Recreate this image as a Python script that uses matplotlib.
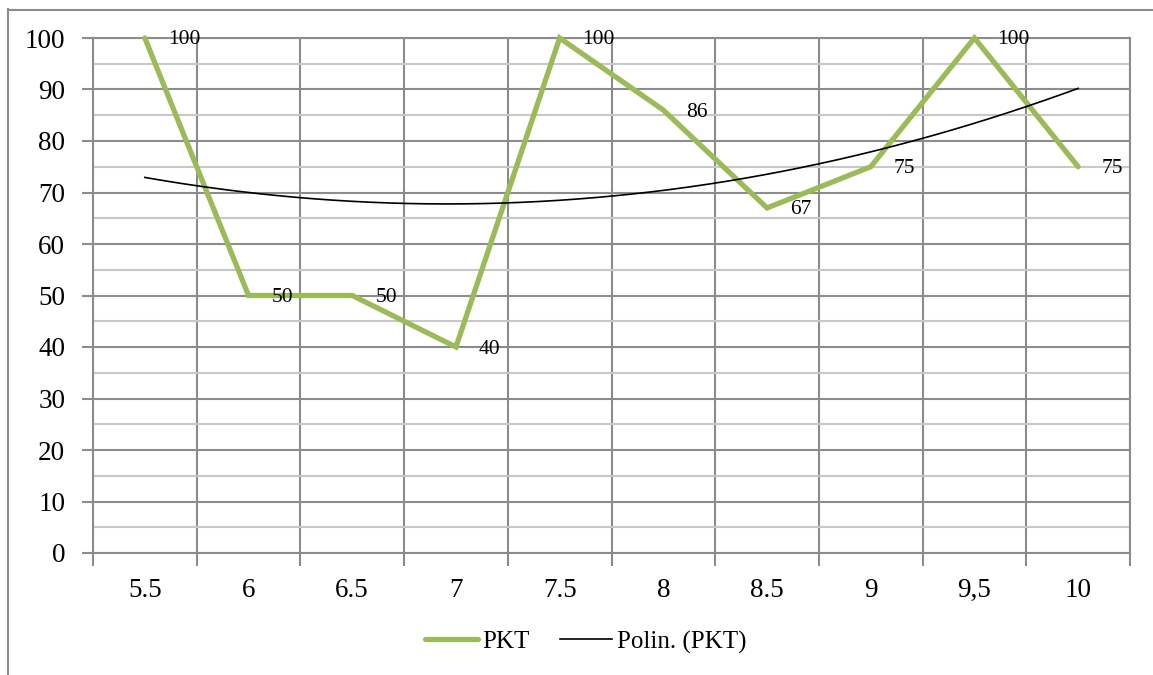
import numpy as np
import matplotlib
matplotlib.use("Agg")
import matplotlib.pyplot as plt
from matplotlib.lines import Line2D

# Data
categories = ["5.5", "6", "6.5", "7", "7.5", "8", "8.5", "9", "9,5", "10"]
pkt = [100, 50, 50, 40, 100, 86, 67, 75, 100, 75]
series_name = "PKT"
trend_name = "Polin. (PKT)"
y_ticks = [0, 10, 20, 30, 40, 50, 60, 70, 80, 90, 100]

GREEN = "#9bbb59"
GRID_MAJOR = "#8c8c8c"
GRID_MINOR = "#c8c8c8"
SERIF = ["Liberation Serif", "DejaVu Serif"]

plt.rcParams["font.family"] = SERIF

W, H = 1153, 675
fig = plt.figure(figsize=(W / 100, H / 100), dpi=100)
ax = fig.add_axes([93 / W, 1 - 553 / H, (1130 - 93) / W, (553 - 38) / H])

x = np.arange(len(categories))

# Category boundaries carry the vertical grid and the x tick marks
ax.set_xlim(-0.5, len(categories) - 0.5)
ax.set_xticks(x)
ax.set_xticklabels(categories, fontsize=19.5)
ax.set_xticks(np.arange(len(categories) + 1) - 0.5, minor=True)
ax.tick_params(axis="x", which="major", length=0, pad=18)
ax.tick_params(axis="x", which="minor", length=9, width=1.5, color=GRID_MAJOR, direction="out")
ax.grid(True, axis="x", which="minor", color=GRID_MAJOR, lw=1.5)

ax.set_ylim(0, 100)
ax.set_yticks(y_ticks)
ax.set_yticklabels([str(v) for v in y_ticks], fontsize=19.5)
ax.set_yticks(np.arange(5, 100, 10), minor=True)
ax.tick_params(axis="y", which="major", length=8, width=1.5, color=GRID_MAJOR, direction="out", pad=12)
ax.tick_params(axis="y", which="minor", length=0)
ax.grid(True, axis="y", which="major", color=GRID_MAJOR, lw=1.5)
ax.grid(True, axis="y", which="minor", color=GRID_MINOR, lw=1.5)
ax.set_axisbelow(True)

for s in ax.spines.values():
    s.set_color(GRID_MAJOR)
    s.set_linewidth(1.5)

# Series line
ax.plot(x, pkt, color=GREEN, lw=3.8, solid_joinstyle="miter", solid_capstyle="round",
        zorder=3, clip_on=False)

# Second-order polynomial trend fitted on category index 1..n
coef = np.polyfit(x + 1, pkt, 2)
xs = np.linspace(0, len(categories) - 1, 200)
ax.plot(xs, np.polyval(coef, xs + 1), color="black", lw=1.2, zorder=4)

# Value labels to the right of each point
for xi, v in zip(x, pkt):
    ax.annotate(str(v), (xi, v), xytext=(23, -2), textcoords="offset pixels",
                ha="left", va="center", fontsize=15.5, family=SERIF, zorder=5,
                annotation_clip=False)

# Legend
handles = [Line2D([], [], color=GREEN, lw=3.8, solid_capstyle="round"),
           Line2D([], [], color="black", lw=1.2)]
fig.legend(handles, [series_name, trend_name], loc="center",
           bbox_to_anchor=(586 / W, 1 - 642 / H), ncol=2, frameon=False,
           fontsize=18, handlelength=2.1, handletextpad=0.2, columnspacing=1.2)

# Chart border
fig.add_artist(Line2D([7.5 / W, 7.5 / W], [0, 1 - 9 / H], color=GRID_MAJOR, lw=1.5,
                      transform=fig.transFigure))
fig.add_artist(Line2D([7.5 / W, 1], [1 - 9.5 / H, 1 - 9.5 / H], color=GRID_MAJOR, lw=1.5,
                      transform=fig.transFigure))

fig.savefig("out.png", dpi=100)
